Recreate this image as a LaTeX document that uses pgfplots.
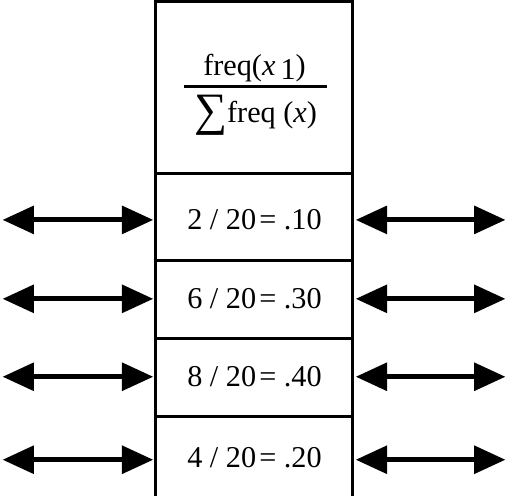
\documentclass[border=0pt]{standalone}
\usepackage{pgfplots}
\pgfplotsset{compat=1.18}
\usepackage{fontspec}
\setmainfont{Liberation Serif}
\usetikzlibrary{arrows.meta}

\begin{document}
\begin{tikzpicture}
\begin{axis}[
    width=508bp, height=493bp, scale only axis,
    xmin=0, xmax=508, ymin=0, ymax=493, y dir=reverse,
    hide axis, clip=false,
]
% column outline (open at the bottom)
\addplot[black, line width=2.6bp, line join=miter] coordinates {
  (157,493) (157,4) (352,4) (352,493)
};
% row separators
\foreach \yy in {174,260,337,414} {
  \edef\tmp{\noexpand\addplot[black, line width=2.6bp] coordinates {(157,\yy) (352,\yy)};}
  \tmp
}
% fraction bar of the header
\addplot[black, line width=2.6bp] coordinates {(185,88) (327,88)};

% double arrows on both sides of each row
\pgfplotsset{dbl/.style={black, line width=5bp,
  {Triangle[length=31bp,width=27bp]}-{Triangle[length=31bp,width=27bp]}}}
\foreach \yy in {220,298,375,457} {
  \edef\tmp{\noexpand\addplot[dbl] coordinates {(6,\yy) (155,\yy)};
            \noexpand\addplot[dbl] coordinates {(355,\yy) (503,\yy)};}
  \tmp
}

\node[font=\fontsize{30}{34}\selectfont, anchor=base] at (axis cs:255,77)
  {freq(\textit{x}\,\raisebox{-0.3ex}{1})};
\node[font=\fontsize{30}{34}\selectfont, anchor=base] at (axis cs:256,124)
  {{\fontsize{46}{46}\selectfont\raisebox{-0.14ex}{∑}}freq (\textit{x})};

\newcommand\row[2]{#1 / 20\hspace{0.1em}= #2}
\node[font=\fontsize{30}{34}\selectfont] at (axis cs:255,220) {\row{2}{.10}};
\node[font=\fontsize{30}{34}\selectfont] at (axis cs:255,298) {\row{6}{.30}};
\node[font=\fontsize{30}{34}\selectfont] at (axis cs:255,375) {\row{8}{.40}};
\node[font=\fontsize{30}{34}\selectfont] at (axis cs:255,455) {\row{4}{.20}};
\end{axis}
\end{tikzpicture}
\end{document}
